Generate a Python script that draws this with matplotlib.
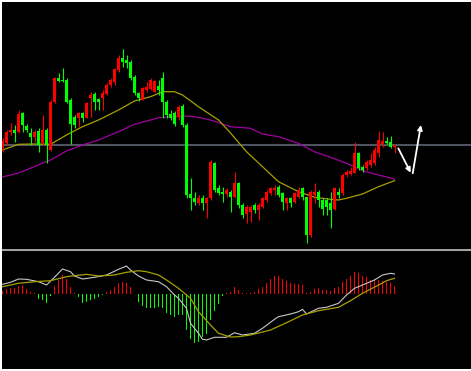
import matplotlib
matplotlib.use("Agg")
import matplotlib.pyplot as plt
from matplotlib.patches import Rectangle
import numpy as np

# ---------------- data (price units, arbitrary scale) ----------------
opens = [102,107,118,120,118,137,124,117,113,119,107,120,100,148,172,170,170,150,133,132,
         137,132,152,156,151,152,156,165,168,180,192,190,188,173,157,150,160,161,158,164,
         172,148,136,137,133,144,125,56,52,47,52,47,52,87,62,58,56,58,53,67,
         45,36,38,45,40,43,50,57,60,63,57,47,52,48,53,62,53,15,55,58,
         50,50,47,41,58,57,75,76,77,97,83,82,85,87,97,106,109,108,103]
highs = [112,120,127,125,140,138,126,122,120,122,135,122,150,173,177,182,172,152,135,138,
         138,148,158,158,152,160,167,172,182,195,201,195,190,175,158,163,168,172,170,170,
         178,150,140,139,145,146,127,72,58,55,55,53,90,88,65,63,62,60,78,68,
         47,45,45,47,47,53,60,63,65,65,58,53,53,58,63,63,53,60,67,60,
         52,52,58,63,62,77,80,83,108,98,85,90,97,103,119,118,113,114,105]
lows = [98,105,115,108,117,118,118,105,108,98,105,87,99,147,168,168,147,106,122,123,
        128,132,133,140,140,140,155,163,165,178,183,182,170,155,149,150,158,160,158,155,
        132,132,130,124,130,123,52,40,45,45,40,32,50,58,55,48,53,38,52,42,
        32,27,28,37,30,42,48,55,55,53,40,40,43,47,52,50,7,13,47,43,
        35,35,22,40,52,55,73,75,77,80,78,80,83,85,93,103,106,102,97]
closes = [109,118,120,117,136,125,120,113,118,105,120,105,148,172,169,169,148,126,125,137,
          132,147,155,148,148,157,165,170,181,192,188,187,172,157,152,162,163,170,169,160,
          148,135,132,126,143,125,55,52,48,52,47,52,88,60,57,56,60,53,67,45,
          35,43,43,40,45,52,58,62,62,55,48,52,47,57,60,53,15,58,58,50,
          41,43,40,62,55,75,78,79,97,82,80,88,90,100,110,109,107,103,105]

# moving averages (sampled at candle indices)
ma_fast_idx = [0,4,8,12,16,20,24,29,33,37,40,43,45,49,54,57,61,65,69,74,78,82,84,86,90,94,98]
ma_fast_val = [100,105.7,106,105.7,115,123.3,130,140,149,153.3,158.3,158.3,155,143.3,130,117,
               98.3,83.3,68.3,58.3,52.7,50.7,50,51.7,56,63.3,69.3]
ma_slow_idx = [0,4,12,16,20,24,29,33,37,39,43,46,49,52,57,62,65,69,74,78,82,86,90,94,98]
ma_slow_val = [73,77,90,99,105,110,118.3,125.7,130,132.3,133.3,134,132.7,130,123.3,121.7,
               116,113.3,106.7,98.3,92.7,86.7,79.3,75,71]
level_line = 105

# MACD panel
hist = [3.6,5,6,6,8.3,9.3,5,2.6,1,-5,-5.7,-9,-1.5,8.3,14.3,19.3,15,7.6,1.6,-3,
        -8.4,-7.4,-5.7,-5,-3,-1,2.6,4.3,7.6,11,12.6,11.6,7,0.5,-7.4,-11.7,-14,-13.4,-14,-12.4,
        -14,-18.4,-20.7,-23,-20.7,-20.7,-35.7,-45,-48.4,-47.4,-42.4,-39.7,-25.7,-16.4,-9.7,-2,1.6,2,7,4.3,
        1.6,1,1.6,2.6,5,7.6,11.6,15.3,18.6,18.3,15.3,13.6,11,10,10,9.3,1,2.6,5.3,6,
        4.3,4.3,3.6,6,7.6,12,15.3,18.3,22,21,18.6,17,14.3,15,14.3,13.6,12.6,11,8.3]
macd_idx = [0,2,4,6,9,11,13,15,17,18,20,23,26,29,31,32,34,36,39,41,43,44,46,47,49,50,51,53,56,
            58,60,63,65,68,69,72,74,75,76,79,81,84,86,88,90,93,95,97,98]
macd_val = [10,12,15.3,15,12.6,9.3,17,25.3,22.6,18.3,15.3,17,19.3,25,28.3,24.3,18.3,14.3,12.6,
            7.6,-0.7,-4,-14,-29,-39,-45,-45.7,-43,-43,-38.4,-40.7,-39,-34,-25,-22.4,-19.7,-17.4,
            -15,-19.7,-14,-13,-9,-0.7,6,9.3,14.3,19.3,21,20.3]
signal_idx = [0,4,8,12,16,21,24,28,31,34,36,39,41,44,47,49,52,54,57,59,62,67,71,75,79,84,87,90,94,96,98]
signal_val = [7.6,11,12.6,13.6,17.6,20,18.3,19.3,22,23.6,22.6,19.3,14.3,6,-4,-17.4,-30.7,-39,
              -42.7,-42.4,-40.7,-35.7,-28.4,-20.7,-16.4,-13,-6.4,1,9.3,13.6,16]

# annotation arrows (index, price)
arrow1 = [(98.95, 101.7), (102.05, 77.3)]
arrow2 = [(102.55, 76.7), (104.6, 125.0)]

UP = "#ff0000"
DOWN = "#00ff00"

# ---------------- figure ----------------
W, H = 471, 371
fig = plt.figure(figsize=(W / 100, H / 100), dpi=100, facecolor="white")

def frac_rect(x0, y0, x1, y1):
    return [x0 / W, 1 - y1 / H, (x1 - x0) / W, (y1 - y0) / H]

ax = fig.add_axes(frac_rect(2, 2, 471, 248.5))
ax2 = fig.add_axes(frac_rect(2, 248.5, 471, 369))
xlim = (-0.125, 117.125)
for a in (ax, ax2):
    a.set_facecolor("black")
    a.set_xlim(*xlim)
    a.set_xticks([])
    a.set_yticks([])
    for s in a.spines.values():
        s.set_visible(False)

ax.set_ylim(1.5, 248)
ax2.set_ylim(-74.7, 45.8)

# level line
ax.axhline(level_line, color="#4d5361", lw=1.5, zorder=1)

# MAs
ax.plot(ma_slow_idx, ma_slow_val, color="#a000a0", lw=0.9, zorder=2)
ax.plot(ma_fast_idx, ma_fast_val, color="#a8a000", lw=0.9, zorder=2)

# candles
bw = 0.75
for i, (o, h, l, c) in enumerate(zip(opens, highs, lows, closes)):
    col = UP if c >= o else DOWN
    ax.vlines(i, l, h, color=col, lw=0.8, zorder=3)
    lo, hi = min(o, c), max(o, c)
    ax.add_patch(Rectangle((i - bw / 2, lo), bw, max(hi - lo, 0.8),
                           facecolor=col, edgecolor="none", zorder=4))

# arrows
for (p0, p1) in (arrow1, arrow2):
    ax.annotate("", xy=p1, xytext=p0,
                arrowprops=dict(arrowstyle="-|>", color="white", lw=1.3,
                                mutation_scale=7, shrinkA=0, shrinkB=0), zorder=5)

# MACD panel
idx = np.arange(len(hist))
cols = [UP if v >= 0 else DOWN for v in hist]
ax2.bar(idx, hist, width=0.45, color=cols, zorder=2)
ax2.plot(macd_idx, macd_val, color="#c8c8c8", lw=0.8, zorder=3)
ax2.plot(signal_idx, signal_val, color="#a8a000", lw=0.9, zorder=3)
ax2.axhline(44.8, color="#a0a0a0", lw=1.5, zorder=4)

fig.savefig("out.png", dpi=100, facecolor="white")
